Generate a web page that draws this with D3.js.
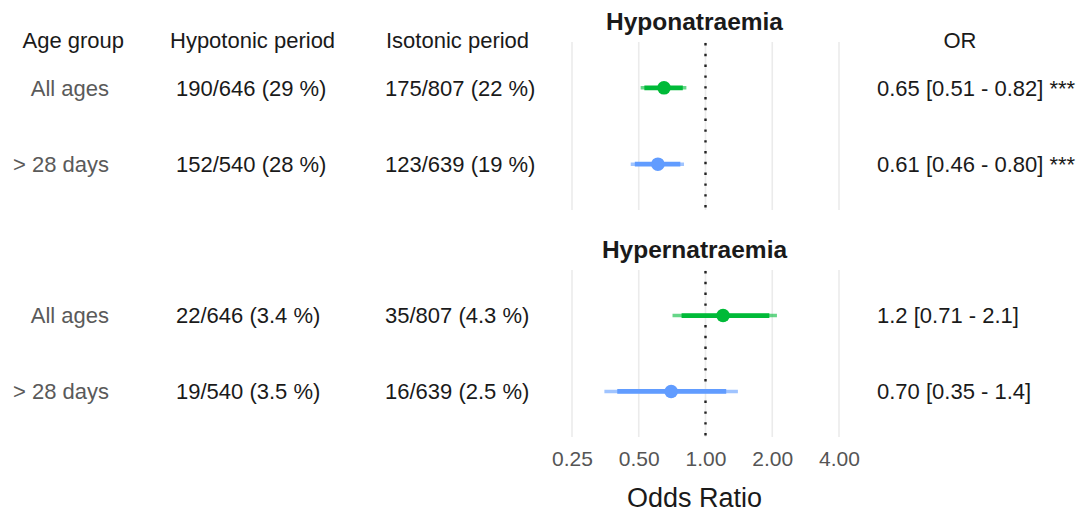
<!DOCTYPE html>
<html>
<head>
<meta charset="utf-8">
<script src="https://cdn.jsdelivr.net/npm/d3@7"></script>
<style>
  html, body { margin: 0; padding: 0; background: #fff; }
  svg { display: block; font-family: "Liberation Sans", Arial, Helvetica, sans-serif; }
</style>
</head>
<body>
<svg id="chart" width="1077" height="515"></svg>
<script>
// ---- data ----
const panels = ["Hyponatraemia", "Hypernatraemia"];
const ageGroups = ["All ages", "> 28 days"];
const headers = ["Age group", "Hypotonic period", "Isotonic period", "OR"];
const hypotonic = [["190/646 (29 %)", "152/540 (28 %)"], ["22/646 (3.4 %)", "19/540 (3.5 %)"]];
const isotonic = [["175/807 (22 %)", "123/639 (19 %)"], ["35/807 (4.3 %)", "16/639 (2.5 %)"]];
const orEst = [[0.65, 0.61], [1.2, 0.70]];
const orLow = [[0.51, 0.46], [0.71, 0.35]];
const orHigh = [[0.82, 0.80], [2.1, 1.4]];
const innerLow = [[0.53, 0.48], [0.78, 0.40]];
const innerHigh = [[0.79, 0.77], [1.94, 1.24]];
const orLabels = [["0.65 [0.51 - 0.82] ***", "0.61 [0.46 - 0.80] ***"], ["1.2 [0.71 - 2.1]", "0.70 [0.35 - 1.4]"]];
const xTicks = [0.25, 0.5, 1, 2, 4];
const xTickLabels = ["0.25", "0.50", "1.00", "2.00", "4.00"];
const groupColors = ["#00BA38", "#619CFF"];

// ---- layout ----
const svg = d3.select("#chart");
const x = d3.scaleLog().domain([0.25, 4]).range([572, 839]);
const panelY = [[42, 210], [270, 437]];
const panelTitleY = [21, 249];
const plotCenter = 694.5;
const fs = 22;

// headers
const headerPos = [
  { x: 22.5, anchor: "start" },
  { x: 170, anchor: "start" },
  { x: 386, anchor: "start" },
  { x: 960, anchor: "middle" }
];
svg.selectAll("text.header").data(headers).join("text")
  .attr("class", "header")
  .attr("x", (d, i) => headerPos[i].x)
  .attr("y", 40)
  .attr("dy", "0.36em")
  .attr("text-anchor", (d, i) => headerPos[i].anchor)
  .attr("font-size", fs)
  .attr("fill", "#1a1a1a")
  .text(d => d);

panels.forEach((pname, p) => {
  const y = d3.scalePoint().domain(ageGroups).range(panelY[p]).padding(0.6);
  const g = svg.append("g");

  // title
  g.append("text")
    .attr("x", plotCenter).attr("y", panelTitleY[p]).attr("dy", "0.36em")
    .attr("text-anchor", "middle")
    .attr("font-size", 24.5).attr("font-weight", "bold").attr("fill", "#1a1a1a")
    .text(pname);

  // grid
  g.selectAll("line.grid").data(xTicks).join("line")
    .attr("class", "grid")
    .attr("x1", d => x(d)).attr("x2", d => x(d))
    .attr("y1", panelY[p][0]).attr("y2", panelY[p][1])
    .attr("stroke", "#ebebeb").attr("stroke-width", 1.6);

  // reference line at 1
  g.append("line")
    .attr("x1", x(1)).attr("x2", x(1))
    .attr("y1", panelY[p][0] + 1).attr("y2", panelY[p][1])
    .attr("stroke", "#222").attr("stroke-width", 2.4)
    .attr("stroke-dasharray", "2.4,8.4");

  const rows = ageGroups.map((a, i) => ({
    age: a, i,
    est: orEst[p][i], lo: orLow[p][i], hi: orHigh[p][i],
    ilo: innerLow[p][i], ihi: innerHigh[p][i],
    hypo: hypotonic[p][i], iso: isotonic[p][i], lab: orLabels[p][i]
  }));

  // outer intervals
  g.selectAll("line.outer").data(rows).join("line")
    .attr("class", "outer")
    .attr("x1", d => x(d.lo)).attr("x2", d => x(d.hi))
    .attr("y1", d => y(d.age)).attr("y2", d => y(d.age))
    .attr("stroke", d => groupColors[d.i]).attr("stroke-width", 3.4)
    .attr("stroke-opacity", 0.6);
  // inner intervals
  g.selectAll("line.inner").data(rows).join("line")
    .attr("class", "inner")
    .attr("x1", d => x(d.ilo)).attr("x2", d => x(d.ihi))
    .attr("y1", d => y(d.age)).attr("y2", d => y(d.age))
    .attr("stroke", d => groupColors[d.i]).attr("stroke-width", 4.8);
  // points
  g.selectAll("circle.pt").data(rows).join("circle")
    .attr("class", "pt")
    .attr("cx", d => x(d.est)).attr("cy", d => y(d.age)).attr("r", 6.8)
    .attr("fill", d => groupColors[d.i]);

  // text columns
  g.selectAll("text.age").data(rows).join("text")
    .attr("class", "age")
    .attr("x", 109).attr("y", d => y(d.age)).attr("dy", "0.36em")
    .attr("text-anchor", "end").attr("font-size", fs).attr("fill", "#5a5a5a")
    .text(d => d.age);
  g.selectAll("text.hypo").data(rows).join("text")
    .attr("class", "hypo")
    .attr("x", 176).attr("y", d => y(d.age)).attr("dy", "0.36em")
    .attr("font-size", fs).attr("fill", "#1a1a1a")
    .text(d => d.hypo);
  g.selectAll("text.iso").data(rows).join("text")
    .attr("class", "iso")
    .attr("x", 385).attr("y", d => y(d.age)).attr("dy", "0.36em")
    .attr("font-size", fs).attr("fill", "#1a1a1a")
    .text(d => d.iso);
  g.selectAll("text.orlab").data(rows).join("text")
    .attr("class", "orlab")
    .attr("x", 877).attr("y", d => y(d.age)).attr("dy", "0.36em")
    .attr("font-size", fs).attr("fill", "#1a1a1a")
    .text(d => d.lab);
});

// x axis
const axis = d3.axisBottom(x).tickValues(xTicks)
  .tickFormat((d, i) => xTickLabels[i]).tickSize(0).tickPadding(0);
const ax = svg.append("g").attr("transform", "translate(0,451)").call(axis);
ax.select(".domain").remove();
ax.selectAll("text")
  .attr("font-size", 21).attr("fill", "#555")
  .attr("font-family", "'Liberation Sans', Arial, sans-serif")
  .attr("dy", "0.71em").attr("y", 0);

svg.append("text")
  .attr("x", plotCenter).attr("y", 497).attr("dy", "0.36em")
  .attr("text-anchor", "middle").attr("font-size", 27).attr("fill", "#1a1a1a")
  .text("Odds Ratio");
</script>
</body>
</html>
